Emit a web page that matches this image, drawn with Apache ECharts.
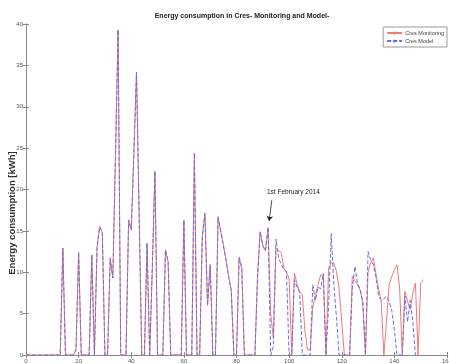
<!DOCTYPE html>
<html>
<head>
<meta charset="utf-8">
<script src="https://cdn.jsdelivr.net/npm/echarts@6/dist/echarts.min.js"></script>
<style>
  html, body { margin: 0; padding: 0; background: #fff; }
  #chart { width: 449px; height: 364px; }
</style>
</head>
<body>
<div id="chart"></div>
<script>
// daily values, day 0 .. 92 (monitoring and model coincide)
const sharedValues = [
    0, 0, 0, 0, 0, 0, 0, 0, 0, 0,
    0, 0, 0, 0, 12.9, 0, 0, 0, 0, 0.6,
    12.4, 0, 0, 0, 0, 12.1, 0, 13, 15.5, 14.8,
    0, 0, 11.7, 9.3, 24, 39.3, 0, 0, 0, 16.3,
    15.1, 24.5, 34.2, 17, 0, 0, 13.5, 0, 10.5, 22.2,
    0, 0, 0, 12.7, 11.3, 0, 0, 0, 0, 0,
    16.3, 0, 0, 0, 24.4, 0, 0, 14.3, 17.1, 6,
    10.9, 0, 0, 16.7, 15, 13.3, 11.5, 9.5, 7.8, 0,
    0, 11.8, 10.5, 0, 0, 0, 0, 0, 9.5, 14.9,
    13.2, 12.6, 15.4
];
// day 93 .. 151
const monitoringTail = [
    5, 2, 12.9, 12.6, 12.4, 10.5, 10,
    9.2, 0, 9.9, 8.6, 7.6, 7.3, 3, 0.6, 0.6, 5.8,
    7.2, 8.5, 9.7, 9.5, 0, 10.5, 11.2, 11.1, 10.1, 8,
    4, 0, 0, 0, 9.5, 9, 8.5, 7.8, 6.4, 0,
    10, 11.2, 11.7, 9.8, 8, 6.5, 0, 4, 8.5, 9.5,
    10.3, 10.9, 8.1, 0, 7.7, 6.5, 5.5, 7.5, 8.7, 0,
    8.7, 9.1
];
// day 93 .. 148
const modelTail = [
    0, 1, 14, 11.7, 11, 10.4, 10,
    0, 0, 9.1, 8.2, 7.6, 0, 0, 0, 0, 8.5,
    6.6, 8.2, 8, 9.9, 0, 6, 14.7, 8.5, 4.5, 0,
    0, 0, 0, 0, 8, 10.7, 8.7, 7.9, 6.4, 0,
    12.5, 11.5, 10.9, 9.4, 7.2, 6.6, 6.8, 7.1, 6.5, 5.4,
    3, 0, 0, 0, 7.1, 4, 6.6, 4, 0
];
const xTicks = [0, 20, 40, 60, 80, 100, 120, 140, 160];
const yTicks = [0, 5, 10, 15, 20, 25, 30, 35, 40];

const toPairs = arr => arr.map((v, i) => [i, v]);
const monitoringData = toPairs(sharedValues.concat(monitoringTail));
const modelData = toPairs(sharedValues.concat(modelTail));

const chartDom = document.getElementById('chart');
const myChart = echarts.init(chartDom);

const axisCommon = {
    axisLine: { show: true, lineStyle: { color: '#8a8a8a', width: 1 } },
    axisTick: { show: true, inside: true, length: 3, lineStyle: { color: '#8a8a8a' } },
    splitLine: { show: false },
    axisLabel: { color: '#555', fontSize: 6, fontFamily: 'Liberation Sans' }
};

myChart.setOption({
    animation: false,
    backgroundColor: '#fff',
    title: {
        text: 'Energy consumption in Cres- Monitoring and Model-',
        left: 237,
        top: 8,
        textAlign: 'center',
        textStyle: { fontSize: 7, fontWeight: 'bold', color: '#222', fontFamily: 'Liberation Sans' }
    },
    legend: {
        right: 2,
        top: 27,
        orient: 'vertical',
        itemWidth: 15,
        itemHeight: 4,
        itemGap: 2,
        padding: [3, 3, 3, 3],
        borderColor: '#999',
        borderWidth: 1,
        backgroundColor: '#fff',
        textStyle: { fontSize: 5.5, color: '#444', fontFamily: 'Liberation Sans', padding: [0, 0, 0, -2] },
        data: ['Cres Monitoring', 'Cres Model']
    },
    grid: { left: 26, right: 2, top: 24, bottom: 9, containLabel: false, outerBoundsMode: 'none' },
    xAxis: [
        Object.assign({}, axisCommon, {
            type: 'value', min: xTicks[0], max: xTicks[xTicks.length - 1], interval: 20,
            position: 'bottom',
            axisLabel: Object.assign({}, axisCommon.axisLabel, { margin: 3 })
        }),
        Object.assign({}, axisCommon, {
            type: 'value', min: xTicks[0], max: xTicks[xTicks.length - 1], interval: 20,
            position: 'top', axisLabel: { show: false }
        })
    ],
    yAxis: [
        Object.assign({}, axisCommon, {
            type: 'value', min: yTicks[0], max: yTicks[yTicks.length - 1], interval: 5,
            position: 'left',
            axisLabel: Object.assign({}, axisCommon.axisLabel, { margin: 3 })
        }),
        Object.assign({}, axisCommon, {
            type: 'value', min: yTicks[0], max: yTicks[yTicks.length - 1], interval: 5,
            position: 'right', axisLabel: { show: false }
        })
    ],
    graphic: [{
        type: 'text',
        left: 267,
        top: 189,
        style: { text: '1st February 2014', fontSize: 6.5, fill: '#222', fontFamily: 'Liberation Sans' }
    }, {
        // y axis title
        type: 'text',
        x: 12,
        y: 213,
        rotation: Math.PI / 2,
        style: {
            text: 'Energy consumption [kWh]',
            fontSize: 9.5, fontWeight: 'bold', fill: '#333', fontFamily: 'Liberation Sans',
            align: 'center', verticalAlign: 'middle'
        }
    }],
    series: [{
        name: 'Cres Monitoring',
        type: 'line',
        data: monitoringData,
        symbol: 'none',
        lineStyle: { color: '#f07878', width: 1 },
        itemStyle: { color: '#f07878' },
        markLine: {
            silent: true,
            symbol: ['none', 'arrow'],
            symbolSize: 5,
            lineStyle: { color: '#222', width: 0.8, type: 'solid' },
            label: { show: false },
            data: [[{ coord: [93.4, 18.7] }, { coord: [92.4, 16.2] }]]
        }
    }, {
        name: 'Cres Model',
        type: 'line',
        data: modelData,
        symbol: 'none',
        lineStyle: { color: '#6e6ed8', width: 1, type: [4, 2] },
        itemStyle: { color: '#6e6ed8' }
    }]
});
</script>
</body>
</html>
